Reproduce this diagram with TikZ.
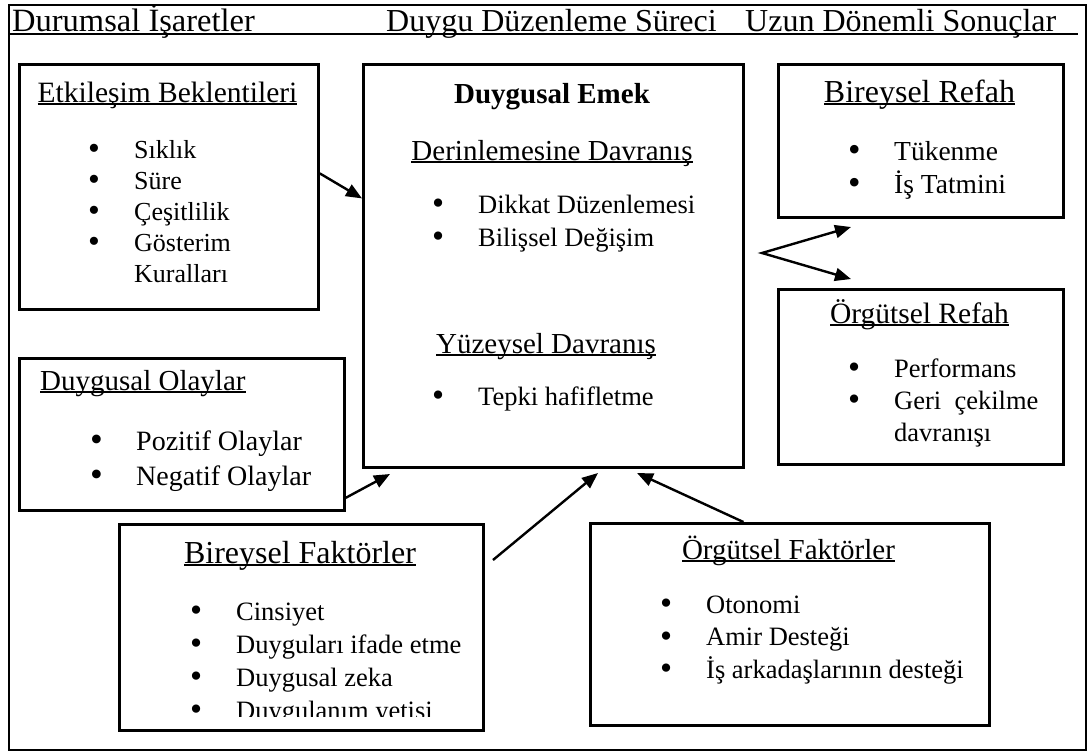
\documentclass[tikz,border=0pt]{standalone}
\usepackage{fontspec}
\setmainfont{Liberation Serif}
\usetikzlibrary{arrows.meta,positioning}

\newcommand{\fsz}[2]{\fontsize{#1}{#2}\selectfont}
\newcommand{\undl}[1]{\setbox0\hbox{#1}\rlap{\rule[-3pt]{\wd0}{1.6pt}}\box0}
\newcommand{\itm}{\makebox[46pt][l]{\smash{\raisebox{-1.5pt}{\scalebox{1.3}{\textbullet}}}}}
\newcommand{\nobul}{\hspace*{46pt}}
\newcommand{\blist}[1]{\begin{tabular}[t]{@{}l@{}}#1\end{tabular}}

\begin{document}
\begin{tikzpicture}[x=1pt, y=-1pt, >={Triangle[length=16pt,width=13pt]},
  box/.style={draw, line width=2.8pt, inner sep=0pt, anchor=north west},
  ttl/.style={inner sep=0pt, anchor=base},
  lst/.style={inner sep=0pt, anchor=base west},
  arr/.style={->, line width=2.4pt}]
\useasboundingbox (0,0) rectangle (1090,753);
% frame and header
\node[draw, line width=2pt, inner sep=0pt, anchor=north west, minimum width=1077, minimum height=745] (frame) at (8,4) {};
\node[lst, font=\fsz{32.5}{38}] (hcues) at (12,31) {Durumsal İşaretler};
\node[lst, font=\fsz{32}{38}] (hproc) at (386,31) {Duygu Düzenleme Süreci};
\node[lst, font=\fsz{32}{38}] (hres) at (745,31) {Uzun Dönemli Sonuçlar};
\draw[line width=1.6pt] (8,34) -- (1078,34);

% boxes
\node[box, minimum width=299, minimum height=245] (etk) at (18,63) {};
\node[box, minimum width=380, minimum height=403] (emek) at (362,63) {};
\node[box, minimum width=285, minimum height=153] (brefah) at (777,63) {};
\node[box, minimum width=285, minimum height=175] (orefah) at (777,288) {};
\node[box, minimum width=325, minimum height=152] (olay) at (18,357) {};
\node[box, minimum width=364, minimum height=206] (bfak) at (118,523) {};
\node[box, minimum width=399, minimum height=202] (ofak) at (589,522) {};

% Etkilesim Beklentileri
\node[ttl, font=\fsz{29.5}{34}] (etkT) at (167.5,102) {\undl{Etkileşim Beklentileri}};
\node[lst, font=\fsz{26}{31}] (etkL) at (88,158) {\blist{\itm Sıklık\\ \itm Süre\\ \itm Çeşitlilik\\ \itm Gösterim\\ \nobul Kuralları}};

% Duygusal Emek
\node[ttl, font=\bfseries\fsz{29}{34}] (emekT) at (552,103) {Duygusal Emek};
\node[ttl, font=\fsz{29}{34}] (derinT) at (552,160) {\undl{Derinlemesine Davranış}};
\node[lst, font=\fsz{26.5}{33}] (derinL) at (432,213) {\blist{\itm Dikkat Düzenlemesi\\ \itm Bilişsel Değişim}};
\node[ttl, font=\fsz{29}{34}] (yuzeyT) at (546,353) {\undl{Yüzeysel Davranış}};
\node[lst, font=\fsz{26.5}{33}] (yuzeyL) at (432,405) {\blist{\itm Tepki hafifletme}};

% Refah
\node[ttl, font=\fsz{32}{36}] (brefahT) at (919.5,102) {\undl{Bireysel Refah}};
\node[lst, font=\fsz{27.5}{33}] (brefahL) at (848,160) {\blist{\itm Tükenme\\ \itm İş Tatmini}};
\node[ttl, font=\fsz{29.5}{34}] (orefahT) at (919.5,323) {\undl{Örgütsel Refah}};
\node[lst, font=\fsz{26.5}{32}] (orefahL) at (848,377) {\blist{\itm Performans\\ \itm Geri\ \ çekilme\\ \nobul davranışı}};

% Duygusal Olaylar
\node[lst, font=\fsz{29}{34}] (olayT) at (40,390) {\undl{Duygusal Olaylar}};
\node[lst, font=\fsz{28}{35}] (olayL) at (90,450) {\blist{\itm Pozitif Olaylar\\ \itm Negatif Olaylar}};

% Faktorler
\node[ttl, font=\fsz{32}{36}] (bfakT) at (300,563) {\undl{Bireysel Faktörler}};
\begin{scope}
\clip (118,523) rectangle (482,716);
\node[lst, font=\fsz{26.5}{33}] (bfakL) at (190,620) {\blist{\itm Cinsiyet\\ \itm Duyguları ifade etme\\ \itm Duygusal zeka\\ \itm Duygulanım yetisi}};
\end{scope}
\node[ttl, font=\fsz{29}{34}] (ofakT) at (788.5,559) {\undl{Örgütsel Faktörler}};
\node[lst, font=\fsz{26.5}{32.5}] (ofakL) at (660,613) {\blist{\itm Otonomi\\ \itm Amir Desteği\\ \itm İş arkadaşlarının desteği}};

% arrows
\coordinate (fork) at (762,253);
\coordinate (tipB) at (851,227);
\coordinate (tipO) at (851,279);
\coordinate (tipE) at (390,474);
\coordinate (bfakout) at (493,560);
\coordinate (tipF) at (598,473);
\coordinate (tipG) at (637,473);
\draw[arr] ([yshift=13.5pt]etk.east) -- ([yshift=67.5pt]emek.west);
\draw[arr, <->] (tipB) -- (fork) -- (tipO);
\draw[arr] ([yshift=14pt]olay.south east) -- (tipE);
\draw[arr] (bfakout) -- (tipF);
\draw[arr] ([xshift=-46.5pt]ofak.north) -- (tipG);
\end{tikzpicture}
\end{document}
